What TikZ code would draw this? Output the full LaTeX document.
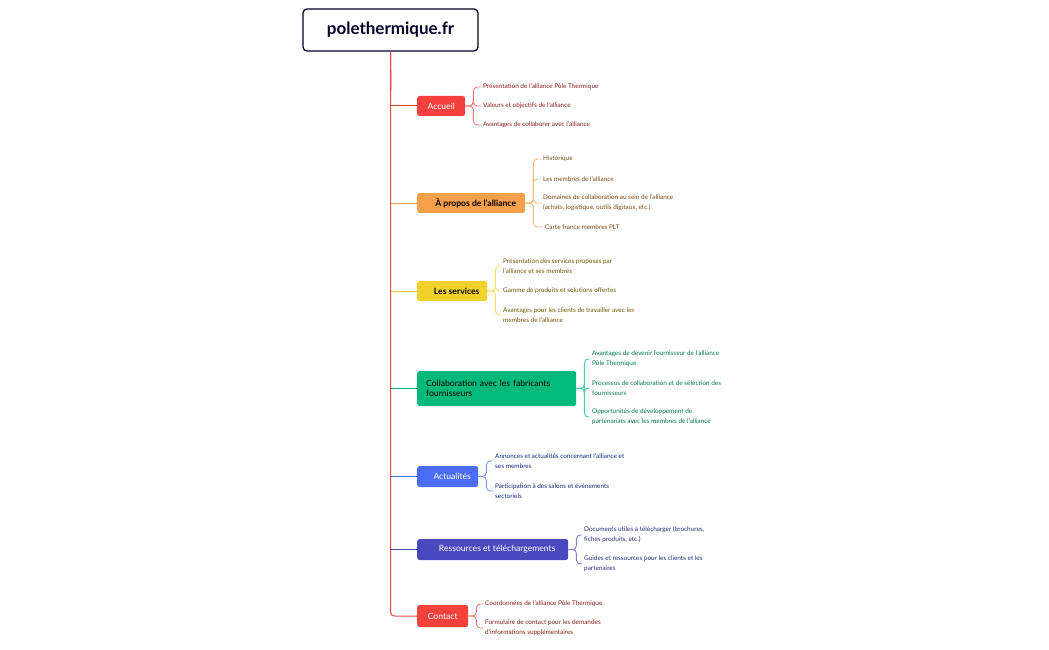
\documentclass[tikz,border=0pt]{standalone}
\usepackage{fontspec}
\setmainfont{Lato}
\begin{document}
\begin{tikzpicture}[x=1pt,y=-1pt,
 box/.style={rounded corners=2.5pt,inner sep=0pt,anchor=west,font=\fontsize{8.6}{10.5}\selectfont,align=left},
 kid/.style={anchor=west,inner sep=0pt,font=\fontsize{6.4}{10}\selectfont,align=left},
 lnk/.style={line width=1pt,rounded corners=4pt}]
\definecolor{cR}{HTML}{F5413D}\definecolor{cO}{HTML}{F5A04A}\definecolor{cY}{HTML}{F2D22A}
\definecolor{cG}{HTML}{00B97A}\definecolor{cB}{HTML}{4A6CF7}\definecolor{cI}{HTML}{4B48BE}
\definecolor{tR}{HTML}{8B1E1E}\definecolor{tO}{HTML}{7A4A10}\definecolor{tY}{HTML}{6B5800}
\definecolor{tG}{HTML}{007A4A}\definecolor{tB}{HTML}{1A237E}\definecolor{tI}{HTML}{2B2A7A}
\definecolor{spine}{HTML}{E5484D}
\useasboundingbox (0,0) rectangle (1049,650);
\node[draw=black!85!blue,line width=1.3pt,rounded corners=4pt,minimum width=175pt,minimum height=42pt,font=\bfseries\fontsize{17}{20}\selectfont,text=black!85!blue] (root) at (390.5,30) {polethermique.fr};
% boxes
\node[box,fill=cR,text=white,minimum width=48pt,minimum height=20pt] (a) at (417,106) {\hfill Accueil\hfill};
\node[box,fill=cO,text=black,minimum width=108pt,minimum height=20pt,font=\bfseries\fontsize{8.6}{10.5}\selectfont] (b) at (417,203) {\hspace{9pt}À propos de l'alliance};
\node[box,fill=cY,text=black,minimum width=70pt,minimum height=20pt,font=\bfseries\fontsize{8.6}{10.5}\selectfont] (c) at (417,291) {\hspace{9pt}Les services};
\node[box,fill=cG,text=black,minimum width=159pt,minimum height=35pt,inner xsep=9pt,text width=141pt] (d) at (417,388.5) {Collaboration avec les fabricants fournisseurs};
\node[box,fill=cB,text=white,minimum width=61pt,minimum height=21pt] (e) at (417,476.5) {\hspace{9pt}Actualités};
\node[box,fill=cI,text=white,minimum width=151pt,minimum height=21pt] (f) at (417,549.5) {\hspace{9pt}Ressources et téléchargements};
\node[box,fill=cR,text=white,minimum width=51pt,minimum height=22pt] (g) at (417,616) {\hfill Contact\hfill};
% spine
\coordinate (sp) at (391,51);
\draw[spine,line width=1pt] (root.south) -- (391,90);
\foreach \n/\c in {a/cR,b/cO,c/cY,d/cG,e/cB,f/cI}{\draw[\c,line width=1pt] (391,0 |- \n.west) -- (\n.west);}
\draw[spine,line width=1pt,rounded corners=4pt] (root.south) |- (g.west);
% children
\node[kid,text=tR] (a1) at (483,87) {Présentation de l'alliance Pôle Thermique};
\node[kid,text=tR] (a2) at (483,106) {Valeurs et objectifs de l'alliance};
\node[kid,text=tR] (a3) at (483,125) {Avantages de collaborer avec l'alliance};
\node[kid,text=tO] (b1) at (543,159) {Historique};
\node[kid,text=tO] (b2) at (543,179) {Les membres de l'alliance};
\node[kid,text=tO] (b3) at (543,203) {Domaines de collaboration au sein de l'alliance\\(achats, logistique, outils digitaux, etc.)};
\node[kid,text=tO] (b4) at (545,227) {Carte france membres PLT};
\node[kid,text=tY] (c1) at (503,266) {Présentation des services proposés par\\l'alliance et ses membres};
\node[kid,text=tY] (c2) at (503,291) {Gamme de produits et solutions offertes};
\node[kid,text=tY] (c3) at (503,315) {Avantages pour les clients de travailler avec les\\membres de l'alliance};
\node[kid,text=tG] (d1) at (592,359) {Avantages de devenir fournisseur de l'alliance\\Pôle Thermique};
\node[kid,text=tG] (d2) at (592,388) {Processus de collaboration et de sélection des\\fournisseurs};
\node[kid,text=tG] (d3) at (592,417) {Opportunités de développement de\\partenariats avec les membres de l'alliance};
\node[kid,text=tB] (e1) at (495,461) {Annonces et actualités concernant l'alliance et\\ses membres};
\node[kid,text=tB] (e2) at (495,491) {Participation à des salons et événements\\sectoriels};
\node[kid,text=tI] (f1) at (584,535) {Documents utiles à télécharger (brochures,\\fiches produits, etc.)};
\node[kid,text=tI] (f2) at (584,564) {Guides et ressources pour les clients et les\\partenaires};
\node[kid,text=tR] (g1) at (485,604) {Coordonnées de l'alliance Pôle Thermique};
\node[kid,text=tR] (g2) at (485,628) {Formulaire de contact pour les demandes\\d'informations supplémentaires};
\foreach \p/\c/\k in {a/cR/{a1,a2,a3},b/cO/{b1,b2,b3,b4},c/cY/{c1,c2,c3},d/cG/{d1,d2,d3},e/cB/{e1,e2},f/cI/{f1,f2},g/cR/{g1,g2}}{
  \foreach \q in \k {\draw[\c!70,lnk,line width=0.9pt] (\p.east) -- ++(8,0) |- ([xshift=-2pt]\q.west);}
}
\end{tikzpicture}
\end{document}
